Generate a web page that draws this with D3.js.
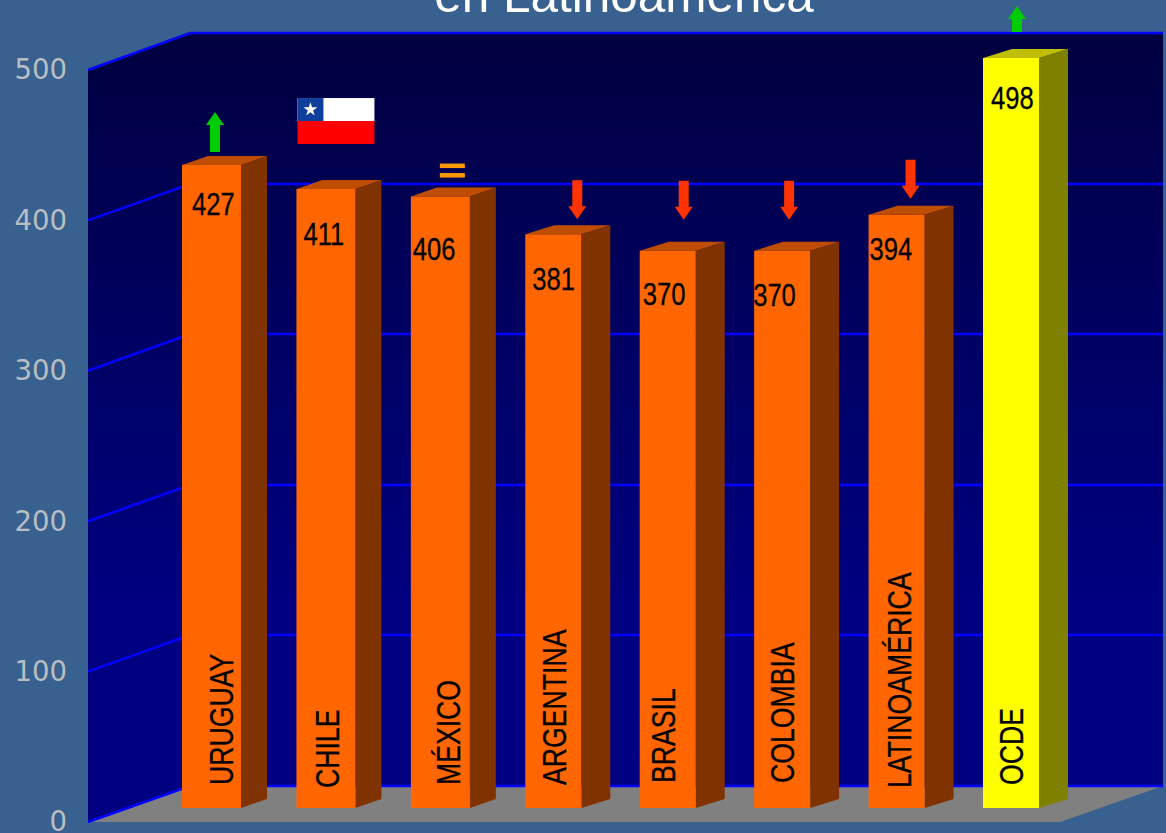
<!DOCTYPE html>
<html>
<head>
<meta charset="utf-8">
<script src="https://cdn.jsdelivr.net/npm/d3@7"></script>
<style>
	html, body { margin: 0; padding: 0; background: #38618f; overflow: hidden; }
	svg { display: block; }
	.narrow { font-family: "Liberation Sans", sans-serif; fill: #000; stroke: #000; stroke-width: 0.3px; }
	.tick text { font-family: "DejaVu Sans", sans-serif; font-size: 27.5px; fill: #b9bec4; }
</style>
</head>
<body>
<div id="chart"></div>
<script>
// Data

const countries = ['URUGUAY', 'CHILE', 'MÉXICO', 'ARGENTINA', 'BRASIL', 'COLOMBIA', 'LATINOAMÉRICA', 'OCDE'];
const scores = [427, 411, 406, 381, 370, 370, 394, 498];
const trends = ['up', 'flag', 'equal', 'down', 'down', 'down', 'down', 'up'];
const axisTicks = [0, 100, 200, 300, 400, 500];

// Config

const width = 1166, height = 833;
const wall = { left: 88, back: 190, right: 1163, backTop: 33, backBottom: 786, sideTop: 70, sideBottom: 822 };
const floorFrontRight = 1060;
const barBase = 808, barRise = 9;
const barWidths = [59, 59, 59, 56, 56, 56, 56, 56];
const barDepths = [26, 26, 26, 29, 29, 29, 29, 29];
const valueNarrow = 0.8, nameNarrow = 0.82;

// Hand placed labels, relative to the bar's front left corner and top
const valueNudge = [[10, 50], [7, 56], [2, 63], [7, 56], [3, 54], [-1, 55], [1, 45], [8, 51]];
const nameNudge = [[51, -23], [43, -20], [49, -23], [41, -23], [35, -25], [40, -25], [42, -20], [40, -23]];
const markNudge = [[33, -13], [0, 0], [41, -33], [52, -16], [44, -32], [35, -32], [42, -17], [34, -26]];

const colours = {
	orange: { front: '#ff6600', side: '#803300', top: '#bf4d00' },
	yellow: { front: '#ffff00', side: '#808000', top: '#bfbf00' }
};

// Scales

const barX = d3.scalePoint().domain(countries).range([182, 983]);
const barY = d3.scaleLinear().domain([0, 500]).range([barBase, 55]);
const backY = d3.scaleLinear().domain([0, 500]).rangeRound([wall.backBottom, wall.backTop]);
const sideY = d3.scaleLinear().domain([0, 500]).range([wall.sideBottom, wall.sideTop]);

// Setup

const svg = d3.select('#chart').append('svg')
	.attr('width', width)
	.attr('height', height);

const grad = svg.append('defs').append('linearGradient')
	.attr('id', 'wall-fill')
	.attr('gradientUnits', 'userSpaceOnUse')
	.attr('x1', 0).attr('x2', 0)
	.attr('y1', wall.backTop).attr('y2', wall.backBottom);
grad.append('stop').attr('offset', 0).attr('stop-color', '#000040');
grad.append('stop').attr('offset', 0.75).attr('stop-color', '#000080');

function poly(parent, pts, fill) {
	return parent.append('polygon')
		.attr('points', pts.map(p => p.join(',')).join(' '))
		.attr('fill', fill);
}

// Walls and floor

const room = svg.append('g').attr('class', 'room');
poly(room, [[wall.left, wall.sideTop], [wall.back, wall.backTop], [wall.right, wall.backTop],
	[wall.right, wall.backBottom], [wall.back, wall.backBottom], [wall.left, wall.sideBottom]], 'url(#wall-fill)');
poly(room, [[wall.left, wall.sideBottom], [wall.back, wall.backBottom],
	[wall.right, wall.backBottom], [floorFrontRight, wall.sideBottom]], '#808080');

room.selectAll('.grid-line')
	.data(axisTicks)
	.enter().append('path')
		.attr('class', 'grid-line')
		.attr('fill', 'none')
		.attr('stroke', '#0000ff')
		.attr('stroke-width', 2.5)
		.attr('d', d => `M${wall.left},${sideY(d)}L${wall.back},${backY(d)}L${wall.right},${backY(d)}`);

// Axis

const axis = d3.axisLeft(sideY).tickValues(axisTicks).tickSize(0).tickPadding(0);
svg.append('g')
	.attr('transform', 'translate(67,0)')
	.call(axis)
	.call(g => g.select('.domain').remove());

// Bars

const bars = svg.selectAll('.bar')
	.data(countries.map((name, i) => ({ name, score: scores[i], i })))
	.enter().append('g')
		.attr('class', 'bar');

bars.each(function(d) {
	const g = d3.select(this);
	const x = barX(d.name), y = barY(d.score);
	const w = barWidths[d.i], depth = barDepths[d.i];
	const c = d.name === 'OCDE' ? colours.yellow : colours.orange;
	poly(g, [[x + w, y], [x + w + depth, y - barRise], [x + w + depth, barBase - barRise], [x + w, barBase]], c.side);
	poly(g, [[x, y], [x + depth, y - barRise], [x + w + depth, y - barRise], [x + w, y]], c.top);
	poly(g, [[x, y], [x + w, y], [x + w, barBase], [x, barBase]], c.front);

	g.append('text')
		.attr('class', 'narrow')
		.attr('transform', `translate(${x + valueNudge[d.i][0]},${y + valueNudge[d.i][1]}) scale(${valueNarrow},1)`)
		.attr('font-size', 32)
		.text(d.score);

	g.append('text')
		.attr('class', 'narrow')
		.attr('transform', `translate(${x + nameNudge[d.i][0]},${barBase + nameNudge[d.i][1]}) rotate(-90) scale(${nameNarrow},1)`)
		.attr('font-size', 32.5)
		.text(d.name);
});

// Trend marks

function arrowPath(len, dir) {
	// drawn from the tail at 0,0, pointing up for dir -1 and down for dir 1
	const head = 13;
	return `M-5,0L5,0L5,${dir * (len - head)}L9,${dir * (len - head)}L0,${dir * len}L-9,${dir * (len - head)}L-5,${dir * (len - head)}Z`;
}

bars.each(function(d) {
	const g = d3.select(this);
	const kind = trends[d.i];
	const x = barX(d.name), y = barY(d.score);
	const [dx, dy] = markNudge[d.i];
	if (kind === 'up') {
		g.append('path')
			.attr('transform', `translate(${x + dx},${y + dy})`)
			.attr('fill', '#00cc00')
			.attr('d', arrowPath(d.name === 'OCDE' ? 26 : 40, -1));
	} else if (kind === 'down') {
		g.append('path')
			.attr('transform', `translate(${x + dx},${y + dy - 38})`)
			.attr('fill', '#ff3300')
			.attr('d', arrowPath(39, 1));
	} else if (kind === 'equal') {
		[0, 9.5].forEach(off => {
			g.append('rect')
				.attr('x', x + dx - 12).attr('y', y + dy + off)
				.attr('width', 25).attr('height', 4.5)
				.attr('fill', '#ff9900');
		});
	} else if (kind === 'flag') {
		const fx = x + 1, fy = y - 91, fw = 77, fh = 46;
		const flag = g.append('g').attr('transform', `translate(${fx},${fy})`);
		flag.append('rect').attr('width', fw).attr('height', fh / 2).attr('fill', '#ffffff');
		flag.append('rect').attr('y', fh / 2).attr('width', fw).attr('height', fh / 2).attr('fill', '#ff0000');
		flag.append('rect').attr('width', 26).attr('height', fh / 2).attr('fill', '#0f3f9a');
		flag.append('path')
			.attr('transform', `translate(13,${fh / 4})`)
			.attr('fill', '#ffffff')
			.attr('d', d3.symbol(d3.symbolStar, 60)());
	}
});

// Title, cut off by the top of the page

svg.append('text')
	.attr('x', 624)
	.attr('y', 12)
	.attr('text-anchor', 'middle')
	.attr('font-family', '"Liberation Sans", sans-serif')
	.attr('font-size', 49.5)
	.attr('fill', '#ffffff')
	.text('en Latinoamérica');
</script>
</body>
</html>
